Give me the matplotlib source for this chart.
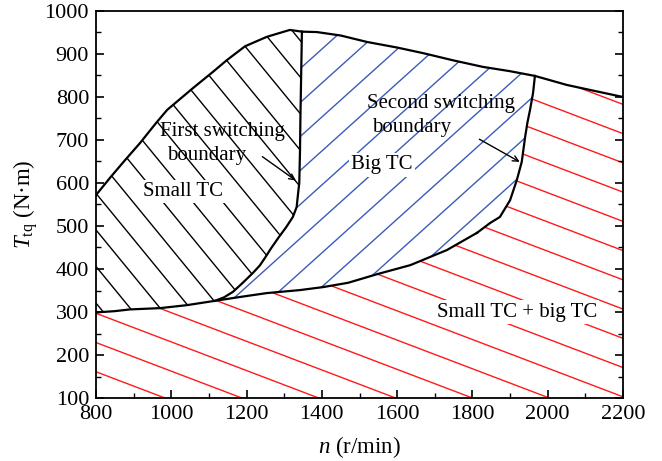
import numpy as np
import matplotlib
matplotlib.use('Agg')
import matplotlib.pyplot as plt
from matplotlib.patches import Polygon
from matplotlib.ticker import MultipleLocator

plt.rcParams['font.family'] = ['Liberation Serif', 'DejaVu Serif']
plt.rcParams['mathtext.fontset'] = 'custom'
plt.rcParams['mathtext.rm'] = 'Liberation Serif'
plt.rcParams['mathtext.it'] = 'Liberation Serif:italic'

# max torque curve (upper boundary)
top_n = np.array([800, 840, 877, 917, 960, 989, 1058, 1110, 1148, 1196, 1254, 1315, 1347,
                  1387, 1450, 1520, 1600, 1669, 1750, 1828, 1900, 1966, 2051, 2120, 2200])
top_t = np.array([572, 615, 653, 693, 740, 770, 821, 858, 886, 918, 940, 956, 952,
                  951, 943, 928, 915, 902, 885, 870, 860, 849, 828, 815, 800])

# lower boundary
low_n = np.array([800, 850, 890, 970, 1042, 1116, 1183, 1254, 1342, 1404, 1470, 1547, 1635, 1732, 1812])
low_t = np.array([299, 302, 306, 309, 316, 326, 335, 344, 351, 358, 368, 388, 409, 444, 484])

# first switching boundary (top -> bottom)
sw1_n = np.array([1347, 1345, 1343, 1342, 1340, 1337, 1333, 1323, 1305, 1284, 1265, 1249, 1235,
                  1217, 1190, 1164, 1140, 1116])
sw1_t = np.array([952, 850, 750, 677, 600, 577, 544, 521, 497, 472, 448, 426, 408,
                  391, 368, 347, 334, 326])

# second switching boundary (top -> bottom)
sw2_n = np.array([1966, 1961, 1953, 1946, 1940, 1931, 1918, 1900, 1873, 1847, 1812])
sw2_t = np.array([849, 809, 770, 740, 707, 649, 607, 560, 521, 507, 484])

xticks = [800, 1000, 1200, 1400, 1600, 1800, 2000, 2200]
yticks = [100, 200, 300, 400, 500, 600, 700, 800, 900, 1000]


def xy(n, t):
    return np.column_stack([n, t])


m = top_n <= 1347
small_poly = np.vstack([xy(top_n[m], top_t[m]), xy(sw1_n[1:], sw1_t[1:]),
                        xy(low_n[low_n < 1116], low_t[low_n < 1116])[::-1]])

m = (top_n >= 1347) & (top_n <= 1966)
ml = (low_n > 1116) & (low_n < 1812)
big_poly = np.vstack([xy(top_n[m], top_t[m]), xy(sw2_n[1:], sw2_t[1:]),
                      xy(low_n[ml], low_t[ml])[::-1], xy(sw1_n, sw1_t)[::-1]])

m = top_n > 1966
red_poly = np.vstack([xy(low_n, low_t), xy(sw2_n, sw2_t)[::-1][1:],
                      xy(top_n[m], top_t[m]), [[2200, 100], [800, 100]]])


def hatch(ax, verts, slope, x0, y0, step, color):
    patch = Polygon(verts, closed=True, facecolor='none', edgecolor='none')
    ax.add_patch(patch)
    xs = np.array([700.0, 2300.0])
    for k in range(-45, 46):
        yy = y0 + k * step + slope * (xs - x0)
        ln, = ax.plot(xs, yy, color=color, lw=1.0, zorder=1)
        ln.set_clip_path(patch)


fig = plt.figure(figsize=(6.62, 4.61), dpi=100)
ax = fig.add_axes([96 / 662, 63 / 461, 527 / 662, 387 / 461])

hatch(ax, small_poly, -1.068, 1342, 677, 85, 'black')
hatch(ax, big_poly, 0.788, 1350, 793, 79, '#3a5cba')
hatch(ax, red_poly, -0.333, 1800, 100, 68, '#ff1a1a')

for n, t in [(top_n, top_t), (low_n, low_t), (sw1_n, sw1_t), (sw2_n, sw2_t)]:
    ax.plot(n, t, color='black', lw=1.6, zorder=3)

fs = 15
box = dict(facecolor='white', edgecolor='none', pad=1.5)
ax.text(1030, 581, 'Small TC', fontsize=fs, ha='center', va='center', bbox=box, zorder=4)
ax.text(1560, 642, 'Big TC', fontsize=fs, ha='center', va='center', bbox=box, zorder=4)
ax.text(1918, 300, 'Small TC + big TC', fontsize=fs, ha='center', va='center', bbox=box, zorder=4)
ax.text(970, 719, 'First switching', fontsize=fs, ha='left', va='center', zorder=4)
ax.text(989, 663, 'boundary', fontsize=fs, ha='left', va='center', zorder=4)
ax.text(1520, 786, 'Second switching', fontsize=fs, ha='left', va='center', zorder=4)
ax.text(1533, 730, 'boundary', fontsize=fs, ha='left', va='center', zorder=4)

arrow = dict(arrowstyle='->', color='black', lw=1.0)
ax.annotate('', xy=(1337, 602), xytext=(1236, 665), arrowprops=arrow, zorder=5)
ax.annotate('', xy=(1932, 646), xytext=(1812, 705), arrowprops=arrow, zorder=5)

ax.set_xlim(800, 2200)
ax.set_ylim(100, 1000)
ax.set_xticks(xticks)
ax.set_yticks(yticks)
ax.xaxis.set_minor_locator(MultipleLocator(100))
ax.yaxis.set_minor_locator(MultipleLocator(50))
ax.tick_params(which='both', direction='in', right=True, top=False, labelsize=16)
ax.tick_params(which='major', length=6, width=1.2, pad=5)
ax.tick_params(which='minor', length=3.5, width=1.0)
for s in ax.spines.values():
    s.set_linewidth(1.3)

ax.set_xlabel(r'$n$ (r/min)', fontsize=16.5, labelpad=7)
ax.set_ylabel(r'$T_{\mathrm{tq}}$ (N·m)', fontsize=16.5, labelpad=3)

fig.savefig('out.png', dpi=100)
